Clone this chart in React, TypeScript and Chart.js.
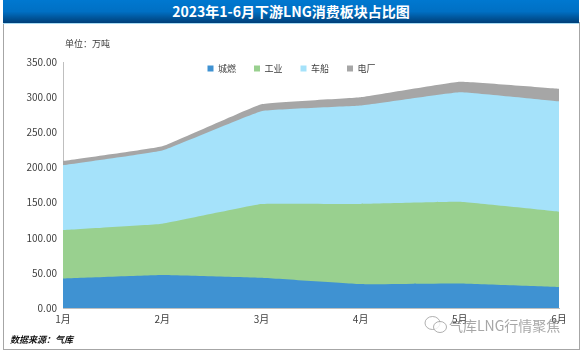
import React, { useEffect, useRef } from "react";
import { Chart, registerables } from "chart.js";

Chart.register(...registerables);

const categories = ["1月", "2月", "3月", "4月", "5月", "6月"];
const chengran = [42, 47, 43, 34, 35, 30];
const gongye = [69, 73, 105, 114, 116, 107];
const chechuan = [92, 104, 132, 140, 156, 157];
const dianchang = [6, 6, 10, 12, 15, 18];
const seriesNames = ["城燃", "工业", "车船", "电厂"];
const seriesColors = ["#3f92d2", "#99d08f", "#a5e2fa", "#a6a6a6"];
const seriesValues = [chengran, gongye, chechuan, dianchang];
const yTicks = [0, 50, 100, 150, 200, 250, 300, 350];
const titleText = "2023年1-6月下游LNG消费板块占比图";
const unitText = "单位：万吨";
const sourceText = "数据来源：气库";
const watermarkText = "气库LNG行情聚焦";

const FONT = '"Noto Sans CJK SC", "Noto Sans", sans-serif';

const legendMove = {
  id: "legendMove",
  afterLayout(chart: any) {
    const l = chart.legend;
    if (l) {
      const h = l.bottom - l.top;
      l.top = 46;
      l.bottom = 46 + h;
      l.left += 12;
      l.right += 12;
    }
  },
};

export default function App() {
  const ref = useRef<HTMLCanvasElement>(null);
  useEffect(() => {
    document.body.style.margin = "0";
    const chart = new Chart(ref.current!, {
      type: "line",
      plugins: [legendMove],
      data: {
        labels: categories,
        datasets: seriesValues.map((v, i) => ({
          label: seriesNames[i],
          data: v,
          backgroundColor: seriesColors[i],
          borderColor: seriesColors[i],
          borderWidth: 0,
          pointRadius: 0,
          fill: true,
          tension: 0.08,
        })),
      },
      options: {
        animation: false,
        responsive: false,
        layout: { padding: { top: 25, right: 22, left: 0, bottom: 0 } },
        plugins: {
          title: { display: false },
          tooltip: { enabled: false },
          legend: {
            position: "top",
            align: "center",
            labels: {
              usePointStyle: true,
              pointStyle: "rect",
              boxWidth: 6,
              boxHeight: 6,
              padding: 18,
              color: "#404040",
              font: { family: FONT, size: 9 },
            },
          },
        },
        scales: {
          x: {
            offset: false,
            afterFit: (s: any) => { s.height = 44; },
            grid: { display: false, drawTicks: true, tickLength: 4, tickColor: "#bfbfbf" } as any,
            border: { color: "#bfbfbf", display: true },
            ticks: { color: "#404040", font: { family: FONT, size: 10 }, padding: 1, maxRotation: 0 },
          },
          y: {
            stacked: true,
            min: 0,
            max: 350,
            afterFit: (s: any) => { s.width = 63; },
            afterBuildTicks: (s: any) => { s.ticks = yTicks.map((value) => ({ value })); },
            grid: { display: false, tickLength: 4, tickColor: "#bfbfbf" } as any,
            border: { color: "#bfbfbf", display: true },
            ticks: {
              color: "#404040",
              font: { family: FONT, size: 10 },
              padding: 2,
              callback: (v: any) => Number(v).toFixed(2),
            },
          },
        },
      },
    } as any);
    return () => chart.destroy();
  }, []);

  return (
    <div style={{ position: "relative", width: 581, height: 352, background: "#fff", overflow: "hidden", fontFamily: FONT }}>
      <div style={{ position: "absolute", left: 3, top: 22, width: 575, height: 327, border: "1px solid #a6a6a6", borderTop: "none", boxSizing: "content-box" }} />
      <canvas ref={ref} width={581} height={352} style={{ position: "absolute", left: 0, top: 0, display: "block" }} />
      <div style={{ position: "absolute", left: 3, top: 0, width: 576, height: 23, background: "linear-gradient(#0078d0 0%, #0070c4 50%, #003f78 100%)", borderBottom: "1px solid #a8dcf5", color: "#fff", fontWeight: 700, fontSize: 14, lineHeight: "23px", textAlign: "center" }}>{titleText}</div>
      <div style={{ position: "absolute", left: 65, top: 37, fontSize: 9, lineHeight: "14px", color: "#404040" }}>{unitText}</div>
      <div style={{ position: "absolute", left: 10, top: 333, fontSize: 9, lineHeight: "14px", color: "#111", fontWeight: 700, fontStyle: "italic" }}>{sourceText}</div>
      <svg style={{ position: "absolute", left: 424, top: 315 }} width={24} height={19} fill="none" stroke="rgba(150,150,150,0.75)">
        <ellipse cx="8.5" cy="8" rx="7.5" ry="6.5" />
        <ellipse cx="16" cy="12" rx="6.5" ry="5.5" fill="rgba(255,255,255,0.8)" />
      </svg>
      <div style={{ position: "absolute", left: 449, top: 316, fontSize: 14, lineHeight: "18px", whiteSpace: "nowrap", color: "rgba(130,130,130,0.7)" }}>{watermarkText}</div>
    </div>
  );
}
